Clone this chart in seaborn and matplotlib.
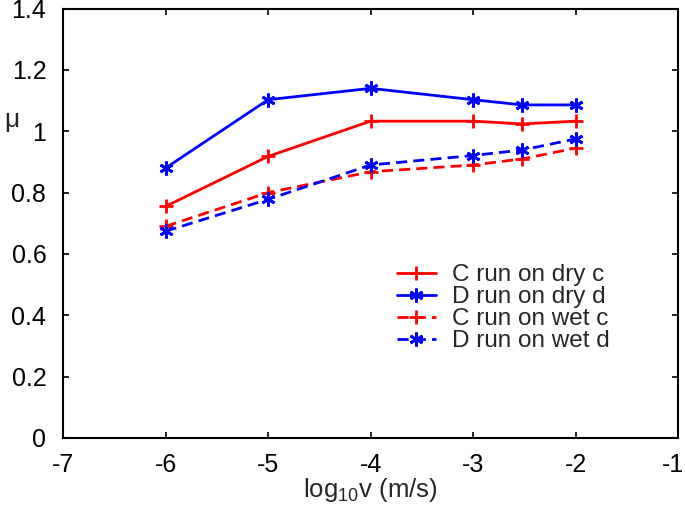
import numpy as np
import matplotlib
matplotlib.use('Agg')
import matplotlib.pyplot as plt
import matplotlib.transforms as mtransforms
import seaborn as sns
import pandas as pd

# log10 of sliding velocity (m/s)
log_v = [-6, -5, -4, -3, -2.52, -2]

# friction coefficient for each run
c_dry = [0.755, 0.918, 1.033, 1.033, 1.024, 1.033]
d_dry = [0.88, 1.103, 1.14, 1.103, 1.086, 1.086]
c_wet = [0.69, 0.80, 0.868, 0.89, 0.91, 0.945]
d_wet = [0.674, 0.778, 0.89, 0.921, 0.939, 0.975]

labels = ['C run on dry c', 'D run on dry d', 'C run on wet c', 'D run on wet d']
colors = ['#ff0000', '#0000ff', '#ff0000', '#0000ff']
markers = ['+', (6, 2, 0), '+', (6, 2, 0)]
styles = ['-', '-', (0, (4, 2.2)), (0, (4, 2.2))]

x_ticks = [-7, -6, -5, -4, -3, -2, -1]
y_ticks = [0, 0.2, 0.4, 0.6, 0.8, 1, 1.2, 1.4]
y_tick_labels = ['0', '0.2', '0.4', '0.6', '0.8', '1', '1.2', '1.4']


def plot_friction():
    sns.set_style('ticks')
    plt.rcParams['font.family'] = ['Liberation Sans', 'DejaVu Sans']
    plt.rcParams['mathtext.fontset'] = 'custom'
    plt.rcParams['mathtext.rm'] = 'Liberation Sans'

    fig = plt.figure(figsize=(6.85, 5.08), dpi=100)
    ax = fig.add_axes([0.092, 0.138, 0.898, 0.845])

    series = [c_dry, d_dry, c_wet, d_wet]
    for vals, lab, col, mk, ls in zip(series, labels, colors, markers, styles):
        df = pd.DataFrame({'logv': log_v, 'mu': vals})
        sns.lineplot(data=df, x='logv', y='mu', ax=ax, label=lab,
                     color=col, marker=mk, markersize=10,
                     markeredgewidth=2, markeredgecolor=col,
                     linestyle=ls, linewidth=2)

    ax.set_xlim(-7, -1)
    ax.set_ylim(0, 1.4)
    ax.set_xticks(x_ticks)
    ax.set_yticks(y_ticks)
    ax.set_xticklabels([str(t) for t in x_ticks])
    ax.set_yticklabels(y_tick_labels)
    ax.tick_params(direction='in', length=4, width=1.2, labelsize=18,
                   top=True, right=True, colors='black')
    ax.tick_params(axis='y', pad=12)
    ax.tick_params(axis='x', pad=11)
    for s in ax.spines.values():
        s.set_linewidth(1.5)
        s.set_color('black')

    # nudge the last x label so it stays inside the figure
    last = ax.get_xticklabels()[-1]
    last.set_transform(last.get_transform() +
                       mtransforms.ScaledTranslation(-4 / 72, 0, fig.dpi_scale_trans))

    ax.set_xlabel(r'log$_{10}$v (m/s)', fontsize=18.5, labelpad=-1)
    ax.set_ylabel('μ', fontsize=19, rotation=0)
    ax.yaxis.set_label_coords(-0.083, 0.712)

    leg = ax.legend(loc='upper left', bbox_to_anchor=(0.543, 0.405),
                    frameon=False, fontsize=17.5, handlelength=1.6,
                    handletextpad=0.65, labelspacing=0.0,
                    borderpad=0, borderaxespad=0)
    for h in leg.legend_handles:
        h.set_markersize(10)

    fig.savefig('out.png', dpi=100)
    plt.close(fig)


def main():
    plot_friction()


if __name__ == '__main__':
    main()
